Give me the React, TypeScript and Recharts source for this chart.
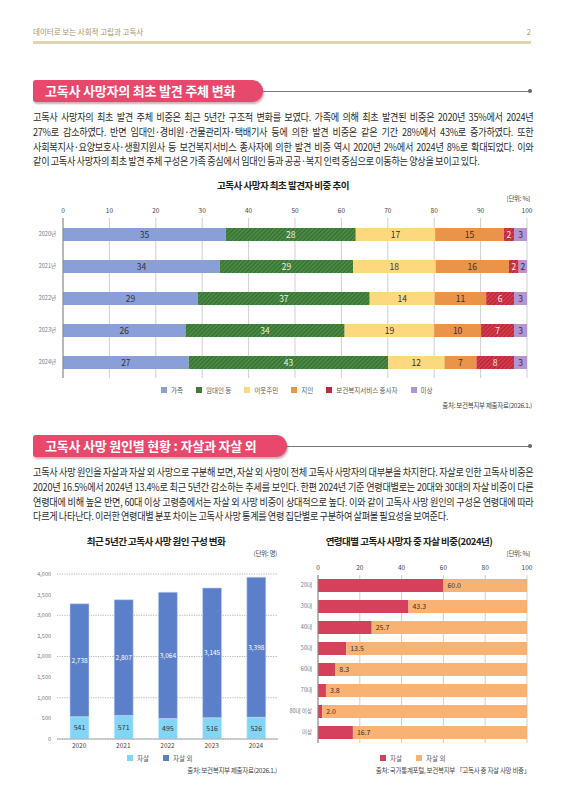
import React from "react"
import { BarChart, Bar, XAxis, YAxis, CartesianGrid, LabelList } from "recharts"

const FONT = "'Noto Sans CJK KR', 'Noto Sans', sans-serif"

// 고독사 사망자 최초 발견자 비중 (%)
const years = ["2020년", "2021년", "2022년", "2023년", "2024년"]
const family = [35.1, 33.8, 29.1, 26.4, 27.1]
const landlord = [28.0, 28.7, 37.0, 34.3, 43.0]
const neighbor = [17.1, 17.8, 14.0, 19.3, 12.1]
const acquaintance = [14.8, 15.8, 11.1, 10.1, 6.9]
const welfare = [2.2, 2.1, 6.0, 7.1, 8.1]
const unknownFinder = [2.8, 1.8, 2.8, 2.8, 2.8]

// 최근 5년간 사망 원인 (명)
const causeYears = ["2020", "2021", "2022", "2023", "2024"]
const suicideCount = [541, 571, 495, 516, 526]
const otherCount = [2738, 2807, 3064, 3145, 3398]
const countTicks = [0, 500, 1000, 1500, 2000, 2500, 3000, 3500, 4000]

// 연령대별 자살 비중 (%)
const ages = ["20대", "30대", "40대", "50대", "60대", "70대", "80대 이상", "미상"]
const suicideShare = [60.0, 43.3, 25.7, 13.5, 8.3, 3.8, 2.0, 16.7]
const otherShare = [40.0, 56.7, 74.3, 86.5, 91.7, 96.2, 98.0, 83.3]
const pctTicks10 = [0, 10, 20, 30, 40, 50, 60, 70, 80, 90, 100]
const pctTicks20 = [0, 20, 40, 60, 80, 100]

const finderSeries = [
  { key: "family", name: "가족", fill: "#8a9fd8", swatch: "#8a9fd8", text: "#333" },
  { key: "landlord", name: "임대인 등", fill: "url(#hatchGreen)", swatch: "#3f7d3a", text: "#e8f0e4" },
  { key: "neighbor", name: "이웃주민", fill: "#fcd87e", swatch: "#fcd87e", text: "#333" },
  { key: "acquaintance", name: "지인", fill: "#ea9449", swatch: "#ea9449", text: "#333" },
  { key: "welfare", name: "보건복지서비스 종사자", fill: "url(#hatchRed)", swatch: "#c3283c", text: "#fbe9ea" },
  { key: "unknown", name: "미상", fill: "#b394d4", swatch: "#b394d4", text: "#333" },
]

const finderData = years.map((y, i) => ({
  year: y,
  family: family[i],
  landlord: landlord[i],
  neighbor: neighbor[i],
  acquaintance: acquaintance[i],
  welfare: welfare[i],
  unknown: unknownFinder[i],
}))

const causeData = causeYears.map((y, i) => ({ year: y, suicide: suicideCount[i], other: otherCount[i] }))
const ageData = ages.map((a, i) => ({ age: a, suicide: suicideShare[i], other: otherShare[i] }))

const smallTick = { fontSize: 5.5, fill: "#777", fontFamily: FONT }
const topTick = { fontSize: 6.5, fill: "#444", fontFamily: FONT }

function SectionTitle({ top, width, text }: { top: number; width: number; text: string }) {
  return (
    <>
      <div
        style={{
          position: "absolute", left: 33, top, width, height: 22,
          background: "#e8486b", borderRadius: "3px 12px 12px 3px",
          boxShadow: "1px 2px 2px rgba(120,20,40,0.35)",
          color: "#fff", fontWeight: 700, fontSize: 13, lineHeight: "22px",
          paddingLeft: 12, boxSizing: "border-box", letterSpacing: -0.2,
        }}
      >
        {text}
      </div>
      <div style={{ position: "absolute", left: 33 + width, top: top + 10.5, width: 529 - 33 - width, height: 1, background: "#777" }} />
      <div style={{ position: "absolute", left: 528, top: top + 9, width: 4, height: 4, borderRadius: 2, background: "#666" }} />
    </>
  )
}

function Para({ top, lines }: { top: number; lines: string[] }) {
  return (
    <div
      style={{
        position: "absolute", left: 33, top, width: 547,
        transform: "scaleX(0.915)", transformOrigin: "0 0",
        fontSize: 10, lineHeight: "14.8px", color: "#2b2b2b", letterSpacing: -0.3, wordSpacing: -0.4,
      }}
    >
      {lines.map((l, i) => {
        const last = i === lines.length - 1
        return (
          <div key={i} style={{ whiteSpace: "nowrap", textAlign: last ? "left" : "justify", textAlignLast: last ? "left" : "justify" }}>
            {l}
          </div>
        )
      })}
    </div>
  )
}

function Legend({ items, top, left, gap }: { items: { name: string; color: string }[]; top: number; left: number; gap: number }) {
  return (
    <div style={{ position: "absolute", top, left, display: "flex", gap, fontSize: 6.5, color: "#555", alignItems: "center", whiteSpace: "nowrap" }}>
      {items.map((it) => (
        <div key={it.name} style={{ display: "flex", alignItems: "center", gap: 4 }}>
          <span style={{ width: 6, height: 6, background: it.color, display: "inline-block" }} />
          <span>{it.name}</span>
        </div>
      ))}
    </div>
  )
}

const titleStyle: React.CSSProperties = {
  position: "absolute", fontSize: 9.5, fontWeight: 700, color: "#222",
  letterSpacing: -0.5, textAlign: "center", whiteSpace: "nowrap",
}
const noteStyle: React.CSSProperties = {
  position: "absolute", fontSize: 6.5, color: "#444", textAlign: "right", whiteSpace: "nowrap", letterSpacing: -0.3,
}

export default function App() {
  return (
    <div style={{ position: "absolute", left: 0, top: 0, width: 566, height: 800, background: "#fff", fontFamily: FONT, overflow: "hidden" }}>
      {/* 머리말 */}
      <div style={{ position: "absolute", left: 33, top: 26, fontSize: 7.5, color: "#a8926a" }}>데이터로 보는 사회적 고립과 고독사</div>
      <div style={{ position: "absolute", right: 35, top: 26, fontSize: 7.5, color: "#a8926a" }}>2</div>
      <div style={{ position: "absolute", left: 33, top: 41, width: 498, height: 3, background: "#e4d4ad" }} />

      <SectionTitle top={80} width={230} text="고독사 사망자의 최초 발견 주체 변화" />
      <Para
        top={110}
        lines={[
          "고독사 사망자의 최초 발견 주체 비중은 최근 5년간 구조적 변화를 보였다. 가족에 의해 최초 발견된 비중은 2020년 35%에서 2024년",
          "27%로 감소하였다. 반면 임대인·경비원·건물관리자·택배기사 등에 의한 발견 비중은 같은 기간 28%에서 43%로 증가하였다. 또한",
          "사회복지사·요양보호사·생활지원사 등 보건복지서비스 종사자에 의한 발견 비중 역시 2020년 2%에서 2024년 8%로 확대되었다. 이와",
          "같이 고독사 사망자의 최초 발견 주체 구성은 가족 중심에서 임대인 등과 공공·복지 인력 중심으로 이동하는 양상을 보이고 있다.",
        ]}
      />

      {/* 차트 1 */}
      <div style={{ ...titleStyle, left: 183, top: 178, width: 200 }}>고독사 사망자 최초 발견자 비중 추이</div>
      <div style={{ ...noteStyle, right: 36, top: 193 }}>[단위: %]</div>
      <div style={{ position: "absolute", left: 0, top: 195 }}>
        <BarChart
          width={540}
          height={187}
          data={finderData}
          layout="vertical"
          margin={{ top: 11, right: 13, bottom: 4, left: 0 }}
          barSize={13}
          style={{ fontFamily: FONT }}
        >
          <defs>
            <pattern id="hatchGreen" patternUnits="userSpaceOnUse" width="3" height="3" patternTransform="rotate(45)">
              <rect width="3" height="3" fill="#4a8a43" />
              <line x1="0" y1="0" x2="0" y2="3" stroke="#2c5e2a" strokeWidth="1.4" />
            </pattern>
            <pattern id="hatchRed" patternUnits="userSpaceOnUse" width="3" height="3" patternTransform="rotate(45)">
              <rect width="3" height="3" fill="#d63a4c" />
              <line x1="0" y1="0" x2="0" y2="3" stroke="#9c1b2b" strokeWidth="1.4" />
            </pattern>
          </defs>
          <CartesianGrid horizontal={false} stroke="#cfcfcf" />
          <XAxis
            type="number"
            orientation="top"
            domain={[0, 100]}
            ticks={pctTicks10}
            height={12}
            axisLine={false}
            tickLine={false}
            tickSize={0}
            tickMargin={5}
            tick={topTick}
          />
          <YAxis
            type="category"
            dataKey="year"
            width={63}
            axisLine={{ stroke: "#888" }}
            tickLine={false}
            tickSize={0}
            tickMargin={7}
            tick={smallTick}
          />
          {finderSeries.map((s) => (
            <Bar key={s.key} dataKey={s.key} stackId="f" fill={s.fill} isAnimationActive={false}>
              <LabelList
                dataKey={s.key}
                position="center"
                fill={s.text}
                fontSize={8.5}
                formatter={(v: unknown) => Math.round(Number(v))}
              />
            </Bar>
          ))}
        </BarChart>
      </div>
      <Legend top={385} left={161} gap={13} items={finderSeries.map((s) => ({ name: s.name, color: s.swatch }))} />
      <div style={{ ...noteStyle, right: 34, top: 400 }}>출처: 보건복지부 제출자료(2026.1.)</div>

      <SectionTitle top={435} width={254} text="고독사 사망 원인별 현황 : 자살과 자살 외" />
      <Para
        top={465}
        lines={[
          "고독사 사망 원인을 자살과 자살 외 사망으로 구분해 보면, 자살 외 사망이 전체 고독사 사망자의 대부분을 차지한다. 자살로 인한 고독사 비중은",
          "2020년 16.5%에서 2024년 13.4%로 최근 5년간 감소하는 추세를 보인다. 한편 2024년 기준 연령대별로는 20대와 30대의 자살 비중이 다른",
          "연령대에 비해 높은 반면, 60대 이상 고령층에서는 자살 외 사망 비중이 상대적으로 높다. 이와 같이 고독사 사망 원인의 구성은 연령대에 따라",
          "다르게 나타난다. 이러한 연령대별 분포 차이는 고독사 사망 통계를 연령 집단별로 구분하여 살펴볼 필요성을 보여준다.",
        ]}
      />

      {/* 차트 2 */}
      <div style={{ ...titleStyle, left: 56, top: 534, width: 200 }}>최근 5년간 고독사 사망 원인 구성 변화</div>
      <div style={{ ...noteStyle, right: 289, top: 548 }}>(단위: 명)</div>
      <div style={{ position: "absolute", left: 0, top: 560 }}>
        <BarChart
          width={290}
          height={195}
          data={causeData}
          margin={{ top: 14, right: 12, bottom: 2, left: 0 }}
          barSize={19}
          style={{ fontFamily: FONT }}
        >
          <CartesianGrid vertical={false} stroke="#b5b5b5" strokeDasharray="1.2 1.2" />
          <XAxis
            dataKey="year"
            height={14}
            axisLine={{ stroke: "#aaa" }}
            tickLine={false}
            tickSize={0}
            tickMargin={4}
            tick={topTick}
          />
          <YAxis
            type="number"
            domain={[0, 4000]}
            ticks={countTicks}
            width={57}
            axisLine={false}
            tickLine={false}
            tickSize={0}
            tickMargin={6}
            tick={smallTick}
            tickFormatter={(v: number) => v.toLocaleString("en-US")}
          />
          <Bar dataKey="suicide" stackId="c" fill="#82d5f6" stroke="#d9eefa" strokeWidth={0.6} isAnimationActive={false}>
            <LabelList dataKey="suicide" position="center" fill="#333" fontSize={7} />
          </Bar>
          <Bar dataKey="other" stackId="c" fill="#5b7fc9" stroke="#c9d6ef" strokeWidth={0.6} isAnimationActive={false}>
            <LabelList
              dataKey="other"
              position="center"
              fill="#fff"
              fontSize={6.5}
              formatter={(v: unknown) => Number(v).toLocaleString("en-US")}
            />
          </Bar>
        </BarChart>
      </div>
      <Legend top={753} left={127} gap={14} items={[{ name: "자살", color: "#82d5f6" }, { name: "자살 외", color: "#5b7fc9" }]} />
      <div style={{ ...noteStyle, right: 289, top: 765 }}>출처: 보건복지부 제출자료(2026.1.)</div>

      {/* 차트 3 */}
      <div style={{ ...titleStyle, left: 309, top: 534, width: 200 }}>연령대별 고독사 사망자 중 자살 비중(2024년)</div>
      <div style={{ ...noteStyle, right: 36, top: 548 }}>[단위: %]</div>
      <div style={{ position: "absolute", left: 270, top: 550 }}>
        <BarChart
          width={270}
          height={195}
          data={ageData}
          layout="vertical"
          margin={{ top: 15, right: 13, bottom: 2, left: 0 }}
          barSize={13}
          style={{ fontFamily: FONT }}
        >
          <CartesianGrid horizontal={false} stroke="#cfcfcf" />
          <XAxis
            type="number"
            orientation="top"
            domain={[0, 100]}
            ticks={pctTicks20}
            height={10}
            axisLine={false}
            tickLine={false}
            tickSize={0}
            tickMargin={5}
            tick={topTick}
          />
          <YAxis
            type="category"
            dataKey="age"
            width={48}
            axisLine={{ stroke: "#888" }}
            tickLine={false}
            tickSize={0}
            tickMargin={6}
            tick={smallTick}
          />
          <Bar dataKey="suicide" stackId="a" fill="#d5415a" isAnimationActive={false} />
          <Bar dataKey="other" stackId="a" fill="#f8b274" isAnimationActive={false}>
            <LabelList
              dataKey="suicide"
              position="insideLeft"
              offset={4}
              fill="#333"
              fontSize={7}
              formatter={(v: unknown) => Number(v).toFixed(1)}
            />
          </Bar>
        </BarChart>
      </div>
      <Legend top={753} left={380} gap={14} items={[{ name: "자살", color: "#d5415a" }, { name: "자살 외", color: "#f8b274" }]} />
      <div style={{ ...noteStyle, right: 36, top: 765 }}>출처: 국가통계포털, 보건복지부 「고독사 중 자살 사망 비중」</div>
    </div>
  )
}
